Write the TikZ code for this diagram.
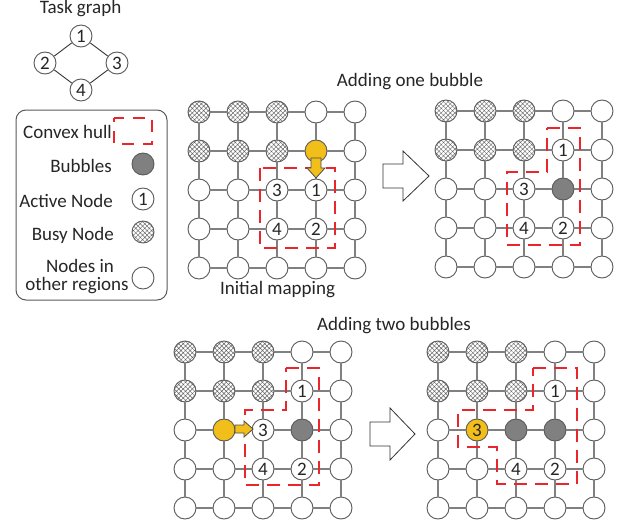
\documentclass[tikz,border=0pt]{standalone}
\usepackage{fontspec}
\setmainfont{Carlito}
\usetikzlibrary{patterns.meta}
\definecolor{gridline}{HTML}{808080}
\definecolor{nodeline}{HTML}{5A5A5A}
\definecolor{hullred}{HTML}{E8262B}
\definecolor{bubblegray}{HTML}{808080}
\definecolor{yel}{HTML}{F2BE1A}
\tikzset{
  txt/.style={inner sep=0pt, font=\fontsize{19}{21}\selectfont, text=black!85},
  baseN/.style={circle, minimum size=22pt, inner sep=0pt, draw=nodeline, line width=0.9pt, font=\fontsize{19}{21}\selectfont, text=black!85},
  emptyN/.style={baseN, fill=white},
  busyN/.style={baseN, pattern={Hatch[angle=45,distance=3.2pt,line width=0.45pt]}, pattern color=black!60},
  bubN/.style={baseN, fill=bubblegray},
  yelN/.style={baseN, fill=yel},
  gridE/.style={draw=gridline, line width=1.1pt},
  taskE/.style={draw=black!80, line width=0.9pt},
  hull/.style={draw=hullred, line width=2pt, dash pattern=on 13pt off 8pt},
  bigarrow/.style={draw=black!80, line width=0.8pt, fill=white, line join=miter},
  yarrow/.style={draw=black!70, line width=0.8pt, fill=yel, line join=miter}
}
\newcommand\drawgrid[4]{%
  \foreach \s/\l [count=\i from 0] in {#4} {
    \pgfmathtruncatemacro\gr{div(\i,5)}
    \pgfmathtruncatemacro\gc{mod(\i,5)}
    \node[\s] (#1-\gr-\gc) at ({#2+39*\gc},{#3+39*\gr}) {\l};
  }
  \foreach \gr in {0,...,4} {
    \foreach \gc in {0,...,3} {
      \pgfmathtruncatemacro\gcn{\gc+1}
      \draw[gridE] (#1-\gr-\gc) -- (#1-\gr-\gcn);
      \draw[gridE] (#1-\gc-\gr) -- (#1-\gcn-\gr);
    }
  }
}
\begin{document}
\begin{tikzpicture}[x=1pt,y=-1pt]
\useasboundingbox (0,0) rectangle (629,527);
\fill[white] (0,0) rectangle (629,527);

% Task graph
\node[txt, anchor=base] (tasktitle) at (80.5,13.5) {Task graph};
\node[emptyN] (t1) at (81,36) {1};
\node[emptyN] (t2) at (45,63) {2};
\node[emptyN] (t3) at (117,63) {3};
\node[emptyN] (t4) at (81,90) {4};
\draw[taskE] (t1) -- (t2);
\draw[taskE] (t1) -- (t3);
\draw[taskE] (t2) -- (t4);
\draw[taskE] (t3) -- (t4);

% Legend
\draw[draw=nodeline, line width=1pt, rounded corners=10pt] (16,110) rectangle (167,300);
\node[txt, anchor=base east] (lg1) at (112,138) {Convex hull};
\draw[hull, dash pattern=on 12pt off 9pt, dash phase=8pt] (114,118) rectangle (152,144);
\node[txt, anchor=base east] (lg2) at (112,172) {Bubbles};
\node[bubN] (lc2) at (143,164) {};
\node[txt, anchor=base east] (lg3) at (113,207) {Active Node};
\node[emptyN] (lc3) at (143,199) {1};
\node[txt, anchor=base east] (lg4) at (114,240) {Busy Node};
\node[busyN] (lc4) at (143,232) {};
\node[txt, anchor=base] (lg5a) at (80,272) {Nodes in};
\node[txt, anchor=base] (lg5b) at (77,290) {other regions};
\node[emptyN] (lc5) at (143,278) {};

% Titles
\node[txt, anchor=base] (title1) at (410,86.5) {Adding one bubble};
\node[txt, anchor=base] (title0) at (277.5,294) {Initial mapping};
\node[txt, anchor=base] (title2) at (394,330) {Adding two bubbles};

% Grid 1: initial mapping
\drawgrid{ga}{199}{112}{busyN/{},busyN/{},busyN/{},emptyN/{},emptyN/{},
busyN/{},busyN/{},busyN/{},yelN/{},emptyN/{},
emptyN/{},emptyN/{},emptyN/3,emptyN/1,emptyN/{},
emptyN/{},emptyN/{},emptyN/4,emptyN/2,emptyN/{},
emptyN/{},emptyN/{},emptyN/{},emptyN/{},emptyN/{}}
\draw[hull] (260,168) rectangle (335,248);
\draw[yarrow] (311,158) -- (321,158) -- (321,168) -- (325,168) -- (316,178) -- (307,168) -- (311,168) -- cycle;

% Grid 2: one bubble
\drawgrid{gb}{446}{111}{busyN/{},busyN/{},busyN/{},emptyN/{},emptyN/{},
busyN/{},busyN/{},busyN/{},emptyN/1,emptyN/{},
emptyN/{},emptyN/{},emptyN/3,bubN/{},emptyN/{},
emptyN/{},emptyN/{},emptyN/4,emptyN/2,emptyN/{},
emptyN/{},emptyN/{},emptyN/{},emptyN/{},emptyN/{}}
\draw[hull] (547,128) -- (580,128) -- (580,245) -- (507,245) -- (507,172) -- (547,172) -- cycle;

% Grid 3: two bubbles, step
\drawgrid{gc}{185}{352}{busyN/{},busyN/{},busyN/{},emptyN/{},emptyN/{},
busyN/{},busyN/{},busyN/{},emptyN/1,emptyN/{},
emptyN/{},yelN/{},emptyN/3,bubN/{},emptyN/{},
emptyN/{},emptyN/{},emptyN/4,emptyN/2,emptyN/{},
emptyN/{},emptyN/{},emptyN/{},emptyN/{},emptyN/{}}
\draw[hull] (286,368) -- (319,368) -- (319,485) -- (245,485) -- (245,410) -- (286,410) -- cycle;
\draw[yarrow] (235,425) -- (244,425) -- (244,421) -- (253,429) -- (244,437) -- (244,433) -- (235,433) -- cycle;

% Grid 4: two bubbles, result
\drawgrid{gd}{438}{352}{busyN/{},busyN/{},busyN/{},emptyN/{},emptyN/{},
busyN/{},busyN/{},busyN/{},emptyN/1,emptyN/{},
emptyN/{},yelN/3,bubN/{},bubN/{},emptyN/{},
emptyN/{},emptyN/{},emptyN/4,emptyN/2,emptyN/{},
emptyN/{},emptyN/{},emptyN/{},emptyN/{},emptyN/{}}
\draw[hull] (533,368) -- (577,368) -- (577,484) -- (497,484) -- (497,447) -- (458,447) -- (458,410) -- (533,410) -- cycle;

% Big arrows
\draw[bigarrow] (383,164) -- (403,164) -- (403,151) -- (429,176) -- (403,201) -- (403,188) -- (383,188) -- cycle;
\draw[bigarrow] (370,422) -- (390,422) -- (390,408) -- (415,434) -- (390,460) -- (390,446) -- (370,446) -- cycle;
\end{tikzpicture}
\end{document}
